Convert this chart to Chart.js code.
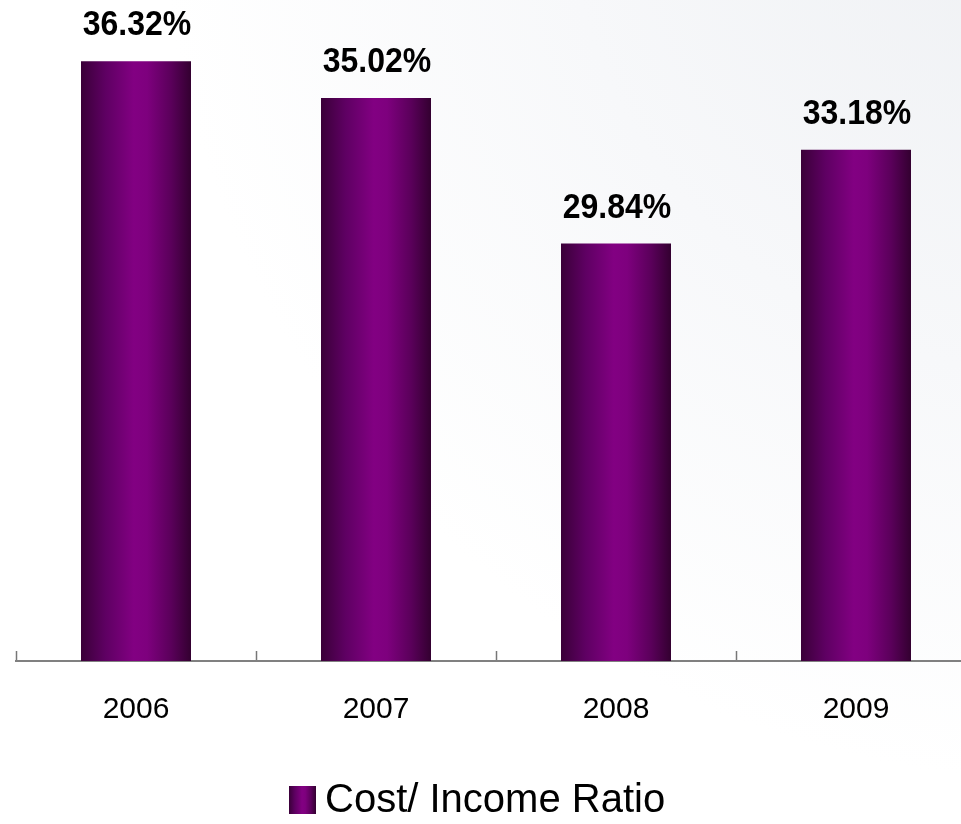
<!DOCTYPE html>
<html>
<head>
<meta charset="utf-8">
<script src="https://cdn.jsdelivr.net/npm/chart.js@4"></script>
<style>
  html, body { margin: 0; padding: 0; background: #fff; overflow: hidden; }
  #wrap { width: 980px; height: 824px; }
</style>
</head>
<body>
<div id="wrap"><canvas id="myChart"></canvas></div>
<script>
const years = ['2006', '2007', '2008', '2009'];
const costIncome = [36.32, 35.02, 29.84, 33.18];
const seriesName = 'Cost/ Income Ratio';

const FONT = '"Liberation Sans", Arial, sans-serif';

// horizontal "cylinder" shading for a bar between x0 and x1
const barShade = (ctx, x0, x1) => {
  const g = ctx.createLinearGradient(x0, 0, x1, 0);
  g.addColorStop(0, '#3a0038');
  g.addColorStop(0.22, '#5e0062');
  g.addColorStop(0.48, '#820082');
  g.addColorStop(0.6, '#7e007e');
  g.addColorStop(0.82, '#5a005a');
  g.addColorStop(1, '#330030');
  return g;
};

const background = {
  id: 'background',
  beforeDraw(chart) {
    const { ctx, width, height } = chart;
    ctx.save();
    const g = ctx.createRadialGradient(1060, -120, 0, 1060, -120, 900);
    g.addColorStop(0, '#eef0f3');
    g.addColorStop(0.55, '#f7f8fa');
    g.addColorStop(1, '#ffffff');
    ctx.fillStyle = g;
    ctx.fillRect(0, 0, width, height);
    ctx.restore();
  }
};

// legend drawn by hand: shaded square + series name, centred under the visible part
const seriesLegend = {
  id: 'seriesLegend',
  afterDraw(chart) {
    const { ctx } = chart;
    ctx.save();
    ctx.font = '40px ' + FONT;
    const tw = ctx.measureText(seriesName).width;
    const total = 27 + 9 + tw;
    const x0 = Math.round(477 - total / 2);
    const yc = 800;
    ctx.fillStyle = barShade(ctx, x0, x0 + 27);
    ctx.fillRect(x0, yc - 14, 27, 28);
    ctx.fillStyle = '#000';
    ctx.textAlign = 'left';
    ctx.textBaseline = 'middle';
    ctx.fillText(seriesName, x0 + 36, yc + 1);
    ctx.restore();
  }
};

const valueLabels = {
  id: 'valueLabels',
  afterDatasetsDraw(chart) {
    const { ctx } = chart;
    const meta = chart.getDatasetMeta(0);
    ctx.save();
    ctx.font = 'bold 32px ' + FONT;
    ctx.fillStyle = '#000';
    ctx.textAlign = 'center';
    ctx.textBaseline = 'alphabetic';
    meta.data.forEach((bar, i) => {
      ctx.save();
      ctx.translate(bar.x + 1, bar.y - 26);
      ctx.scale(1, 1.1);
      ctx.fillText(costIncome[i].toFixed(2) + '%', 0, 0);
      ctx.restore();
    });
    ctx.restore();
  }
};

const ctx = document.getElementById('myChart');
new Chart(ctx, {
  type: 'bar',
  data: {
    labels: years,
    datasets: [{
      label: seriesName,
      data: costIncome,
      backgroundColor: (c) => {
        const sx = c.chart.scales.x;
        if (!sx || c.dataIndex === undefined) return '#800080';
        const x = sx.getPixelForValue(c.dataIndex);
        if (!Number.isFinite(x)) return '#800080';
        return barShade(c.chart.ctx, x - 55, x + 55);
      },
      borderWidth: 0,
      categoryPercentage: 1,
      barPercentage: 110 / 240
    }]
  },
  options: {
    responsive: true,
    maintainAspectRatio: false,
    animation: false,
    layout: { padding: { left: 16, right: 4, top: 0, bottom: 55 } },
    scales: {
      x: {
        grid: {
          offset: true,
          drawOnChartArea: false,
          tickLength: -10,
          tickColor: '#777',
          tickWidth: 1.5
        },
        border: { color: '#808080', width: 2 },
        ticks: {
          color: '#000',
          padding: 41,
          font: { family: FONT, size: 30 }
        }
      },
      y: {
        display: false,
        min: 15,
        max: 38.5
      }
    },
    plugins: {
      tooltip: { enabled: false },
      legend: { display: false }
    }
  },
  plugins: [background, valueLabels, seriesLegend]
});
</script>
</body>
</html>
